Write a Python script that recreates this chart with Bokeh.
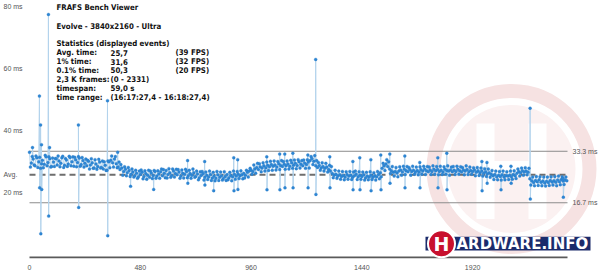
from bokeh.plotting import figure
from bokeh.models import Range1d, FixedTicker
from bokeh.embed import file_html
from bokeh.resources import INLINE
from bokeh.core.properties import value

# ---------------- data ----------------
total_frames = 2331
base_step = 8  # samples read every 8 frames (frames 0, 8, 16, ...)
frame_ms = [
    33.0, 29.5, 30.8, 28.6, 31.2, 29.9, 27.8, 30.4, 29.1, 31.5,
    29.7, 30.9, 28.4, 29.8, 31.0, 28.9, 30.2, 29.4, 31.7, 28.8,
    30.5, 29.2, 31.3, 29.9, 28.5, 30.6, 29.7, 31.1, 29.0, 30.3,
    29.4, 28.6, 30.1, 28.9, 29.6, 27.9, 29.2, 28.4, 29.8, 28.1,
    27.6, 28.8, 27.2, 29.9, 30.4, 29.6, 30.8, 29.3, 28.2, 27.4,
    27.9, 26.8, 27.5, 26.4, 27.1, 25.9, 26.6, 25.4, 26.2, 25.1,
    25.8, 26.5, 25.2, 26.1, 25.6, 24.9, 26.3, 25.5, 26.8, 25.3,
    26.0, 26.7, 25.4, 26.2, 27.1, 25.8, 26.4, 25.5, 26.9, 26.1,
    25.7, 26.6, 25.3, 26.2, 25.9, 26.8, 25.4, 26.1, 25.6, 26.4,
    25.2, 26.0, 24.8, 25.5, 26.1, 24.9, 25.6, 25.0, 25.8, 24.7,
    25.3, 24.6, 25.7, 24.9, 25.4, 24.5, 25.2, 25.8, 24.8, 25.5,
    25.1, 25.9, 25.3, 26.0, 25.4, 25.7, 26.2, 25.6, 26.5, 26.9,
    27.2, 26.8, 27.6, 28.1, 27.4, 28.3, 27.9, 28.6, 28.0, 28.8,
    28.3, 29.0, 28.5, 28.9, 28.2, 29.3, 28.7, 28.4, 29.1, 28.6,
    29.2, 28.5, 29.6, 28.8, 29.4, 28.7, 29.9, 29.1, 28.6, 29.5,
    29.0, 29.8, 30.3, 31.0, 30.1, 28.6, 28.1, 28.7, 27.9, 28.4,
    27.8, 28.2, 27.4, 26.9, 26.1, 25.6, 25.9, 25.3, 25.7, 25.2,
    25.5, 25.0, 25.8, 25.3, 25.6, 24.9, 25.4, 25.9, 25.1, 25.6,
    25.2, 25.7, 24.8, 25.3, 25.0, 25.6, 24.9, 25.4, 25.1, 25.8,
    26.4, 27.8, 28.6, 29.2, 28.4, 27.6, 27.0, 26.5, 26.8, 26.3,
    26.9, 27.3, 26.6, 27.5, 27.0, 26.7, 27.4, 26.8, 27.2, 26.5,
    27.1, 26.6, 27.4, 26.9, 27.6, 27.0, 26.7, 27.3, 26.8, 27.5,
    27.0, 27.4, 26.8, 27.2, 26.6, 27.5, 27.1, 26.9, 27.3, 26.7,
    27.2, 26.8, 27.5, 27.0, 26.6, 27.3, 26.9, 27.4, 26.7, 27.1,
    26.8, 27.3, 26.5, 27.0, 26.4, 26.9, 26.2, 26.7, 26.0, 26.4,
    25.9, 25.4, 25.8, 25.1, 25.6, 25.2, 25.7, 25.0, 25.5, 25.3,
    25.6, 25.1, 25.8, 25.4, 26.2, 26.8, 26.4, 27.0, 26.6, 26.9,
    26.5, 24.4, 23.8, 23.2, 23.9, 23.5, 24.1, 23.3, 23.7, 23.1,
    23.6, 23.2, 23.9, 23.4, 23.8, 23.3, 24.0, 23.5, 24.2, 23.7,
    24.0, 23.8,
]
# in-between samples (frames 4, 12, 20, ...)
frame_ms_mid = [
    28.2, 31.6, 28.9, 31.8, 28.1, 31.4, 29.3, 28.0, 32.0, 28.6,
    31.5, 28.2, 31.1, 28.4, 30.9, 31.8, 28.3, 31.2, 28.1, 31.0,
    28.4, 31.7, 28.6, 31.5, 31.4, 28.3, 31.6, 28.5, 31.3, 28.2,
    30.8, 30.4, 27.6, 30.9, 27.8, 30.6, 27.5, 30.7, 27.9, 30.2,
    29.9, 27.1, 30.2, 28.0, 31.8, 28.2, 31.6, 28.0, 29.8, 29.0,
    25.6, 28.3, 25.4, 28.1, 25.2, 27.6, 25.0, 27.2, 24.6, 26.9,
    27.3, 24.4, 27.0, 24.3, 27.2, 26.9, 24.5, 27.1, 24.6, 27.0,
    24.6, 27.6, 27.4, 24.8, 24.7, 27.7, 24.9, 27.6, 25.0, 27.5,
    27.4, 24.6, 27.3, 24.7, 27.5, 24.8, 27.2, 24.6, 27.6, 24.9,
    26.9, 24.1, 26.7, 26.8, 24.0, 26.6, 24.2, 26.9, 23.9, 26.5,
    23.8, 26.8, 23.9, 26.6, 24.0, 26.7, 23.9, 24.1, 26.5, 23.8,
    26.9, 24.3, 26.8, 24.5, 27.0, 24.4, 24.7, 27.2, 25.0, 27.8,
    25.9, 28.9, 26.2, 29.4, 29.3, 26.7, 29.6, 26.9, 29.8, 27.1,
    30.1, 27.2, 30.2, 27.3, 30.0, 27.4, 30.3, 30.0, 27.5, 30.2,
    27.6, 30.4, 27.8, 30.5, 27.7, 30.6, 27.9, 30.3, 30.5, 27.8,
    30.6, 27.9, 31.6, 29.0, 31.9, 30.3, 29.7, 27.2, 29.6, 26.9,
    29.4, 26.6, 28.8, 28.4, 24.8, 27.2, 24.6, 26.9, 24.3, 26.8,
    24.1, 26.7, 24.3, 26.8, 24.2, 26.6, 26.9, 24.2, 26.7, 24.3,
    26.6, 24.0, 26.5, 24.1, 26.7, 24.2, 26.4, 24.0, 26.8, 24.4,
    25.1, 29.4, 27.1, 30.6, 29.9, 26.1, 28.4, 25.3, 28.1, 25.1,
    28.3, 25.6, 28.5, 25.8, 28.4, 28.1, 25.6, 28.5, 25.9, 28.2,
    25.7, 28.3, 25.9, 28.5, 25.8, 28.4, 28.2, 25.8, 28.6, 25.9,
    28.4, 25.7, 28.5, 25.8, 28.3, 25.9, 28.6, 25.6, 28.2, 28.4,
    25.8, 28.5, 25.9, 28.3, 28.1, 25.7, 28.6, 25.8, 28.2, 25.9,
    28.0, 25.4, 28.1, 25.5, 27.9, 25.3, 27.7, 25.2, 27.6, 24.9,
    27.1, 24.2, 26.9, 24.1, 26.8, 24.0, 26.9, 24.1, 26.7, 24.2,
    26.9, 24.3, 27.0, 24.5, 27.6, 25.3, 27.9, 25.6, 28.0, 25.7,
    27.8, 22.4, 25.0, 22.2, 25.2, 22.3, 25.1, 22.2, 25.0, 22.1,
    25.0, 22.3, 25.1, 22.4, 25.2, 22.2, 25.3, 22.5, 25.1, 22.6,
    25.0,
]
spike_frames = [
    13, 43, 44, 48, 49, 52, 53, 82, 83, 87, 212, 213, 338, 339, 382, 438, 538,
    685, 686, 759, 760, 798, 885, 886, 902, 903, 1028, 1029, 1084, 1085,
    1106, 1107, 1141, 1142, 1206, 1207, 1240, 1241, 1301, 1302, 1401, 1402,
    1431, 1432, 1479, 1480, 1522, 1523, 1561, 1562, 1626, 1627, 1691, 1692,
    1769, 1770, 1808, 1809, 1960, 1961, 1982, 1983, 2042, 2043, 2086, 2087,
    2169, 2170, 2311, 2313,
]
spike_ms = [
    34.5, 51.1, 21.5, 41.8, 6.7, 35.4, 21.0, 77.4, 12.4, 34.5, 41.8, 15.2, 49.6, 6.1, 33.0, 22.0, 21.0,
    30.3, 23.0, 30.0, 22.4, 20.6, 31.2, 20.6, 30.6, 21.0, 31.5, 20.9, 32.4, 20.9,
    32.4, 21.5, 32.7, 21.5, 32.1, 21.5, 62.9, 19.4, 31.5, 21.5, 30.0, 20.9,
    31.2, 20.9, 30.6, 20.6, 32.1, 20.9, 32.4, 23.0, 31.8, 21.5, 29.7, 21.5,
    31.2, 21.5, 32.7, 20.9, 30.0, 20.6, 29.7, 23.0, 28.5, 20.9, 28.5, 23.0,
    47.2, 17.9, 24.6, 18.5,
]
avg_ms = 25.7
fps30_ms = 33.3
fps60_ms = 16.7
x_ticks = [0, 480, 960, 1440, 1920]
y_ticks = [80, 60, 40, 25.7, 20]
y_tick_labels = ["80 ms", "60 ms", "40 ms", "Avg.", "20 ms"]
ref_ticks = [33.3, 16.7]
ref_tick_labels = ["33.3 ms", "16.7 ms"]

title = "FRAFS Bench Viewer"
subtitle = "Evolve - 3840x2160 - Ultra"
stats_head = "Statistics (displayed events)"
stats_labels = ["Avg. time:", "1% time:", "0.1% time:", "2,3 K frames:", "timespan:", "time range:"]
stats_values = ["25,7", "31,6", "50,3", "(0 - 2331)", "59,0 s", "(16:17:27,4 - 16:18:27,4)"]
stats_fps = ["(39 FPS)", "(32 FPS)", "(20 FPS)", "", "", ""]

# ---------------- build ----------------
base_frames = [i * base_step for i in range(len(frame_ms))]
mid_frames = [i * base_step + base_step // 2 for i in range(len(frame_ms_mid))]
pts = sorted(zip(base_frames + mid_frames + spike_frames, frame_ms + frame_ms_mid + spike_ms),
             key=lambda t: t[0])
xs = [a for a, b in pts]
ys = [b for a, b in pts]

# pixel geometry: frame 0 at x=29, last frame at x=567; 0 ms at y=258, 3.15 px per ms
X0PX, X1PX = 29, 567
PXF = (X1PX - X0PX) / total_frames
W, H_FRAME = 600, 262
MS0_PY, PX_MS = 258, 3.15
XR0 = -X0PX / PXF
XR1 = (W - X0PX) / PXF
YR1 = MS0_PY / PX_MS
YR0 = -(H_FRAME - MS0_PY) / PX_MS

def dx(px):
    return XR0 + px / PXF

def dy(py):
    return YR1 - py / PX_MS

p = figure(width=W, height=272, x_range=Range1d(XR0, XR1), y_range=Range1d(YR0, YR1),
           output_backend="svg", toolbar_location=None,
           min_border_left=0, min_border_right=0, min_border_top=0, min_border_bottom=272 - H_FRAME)
p.background_fill_color = "white"
p.border_fill_color = "white"
p.outline_line_color = None
p.grid.visible = False
p.yaxis.visible = False

FONT = "Liberation Sans"
HFONT = "'DejaVu Sans Condensed', 'Liberation Sans'"

# watermark (faint logo)
p.annulus(x=[dx(511)], y=[dy(171)], inner_radius=71, outer_radius=85,
          inner_radius_units="screen", outer_radius_units="screen",
          fill_color="#f6e2e2", line_color=None)
p.circle(x=[dx(511)], y=[dy(171)], radius=64, radius_units="screen",
         fill_color="#fbf1f1", line_color=None)
p.quad(left=[dx(476), dx(528), dx(490)], right=[dx(494), dx(546), dx(530)],
       top=[dy(125), dy(125), dy(163)], bottom=[dy(222), dy(222), dy(178)],
       fill_color="white", line_color=None)

# reference lines
p.segment(x0=[0, 0], x1=[total_frames, total_frames], y0=[fps30_ms, fps60_ms], y1=[fps30_ms, fps60_ms],
          line_color="#8c8c8c", line_width=1)
p.segment(x0=[0], x1=[total_frames], y0=[avg_ms], y1=[avg_ms],
          line_color="#6e6e6e", line_width=2, line_dash="6 4")

# data
p.line(xs, ys, line_color="#b3d3ec", line_width=1)
p.scatter(xs, ys, size=3, fill_color="#2d86d4", line_color="#2a7cc4", line_width=0.3)

# x axis line
p.segment(x0=[0], x1=[total_frames], y0=[dy(261)], y1=[dy(261)], line_color="#5a5a5a", line_width=2)

# banner
p.quad(left=[dx(425)], right=[dx(590)], top=[dy(240)], bottom=[dy(254)],
       fill_color="#1b2b6b", line_color=None)
p.circle(x=[dx(441)], y=[dy(247)], radius=13.5, radius_units="screen",
         fill_color="#c8102e", line_color="white", line_width=2)
p.text(x=[dx(441)], y=[dy(247.5)], text=["H"], text_color="white", text_font=value("DejaVu Sans"),
       text_font_style="bold", text_font_size="19px", text_align="center", text_baseline="middle")
p.text(x=[dx(456)], y=[dy(247.5)], text=["ARDWARE.INFO"], text_color="white", text_font=value("DejaVu Sans"),
       text_font_style="bold", text_font_size="15px", text_align="left", text_baseline="middle")

# y tick labels (left) and reference labels (right)
p.text(x=[dx(3)] * len(y_ticks), y=y_ticks, text=y_tick_labels, text_color="#555555",
       text_font=value(FONT), text_font_size="7px", text_align="left", text_baseline="middle")
p.text(x=[dx(572)] * len(ref_ticks), y=ref_ticks, text=ref_tick_labels, text_color="#555555",
       text_font=value(FONT), text_font_size="7px", text_align="left", text_baseline="middle")

# header texts
def put(px, py, txt, size="7.8px"):
    p.text(x=[dx(px)], y=[dy(py)], text=[txt], text_color="#111111", text_font=value(HFONT),
           text_font_style="bold", text_font_size=size, text_align="left", text_baseline="middle")

put(56, 7.5, title)
put(56, 26, subtitle)
put(56, 44, stats_head)
row_y = [53, 62, 71, 80, 89, 98]
for yy, a, b, c in zip(row_y, stats_labels, stats_values, stats_fps):
    put(56, yy, a)
    put(110, yy, b)
    if c:
        put(175, yy, c)

# x axis (tick labels only)
ax = p.xaxis[0]
ax.ticker = FixedTicker(ticks=x_ticks)
ax.axis_line_color = None
ax.major_tick_line_color = None
ax.minor_tick_line_color = None
ax.major_label_text_font = FONT
ax.major_label_text_font_size = "7px"
ax.major_label_text_color = "#555555"
ax.major_label_standoff = 0

open("out.html", "w").write(file_html(p, INLINE))
